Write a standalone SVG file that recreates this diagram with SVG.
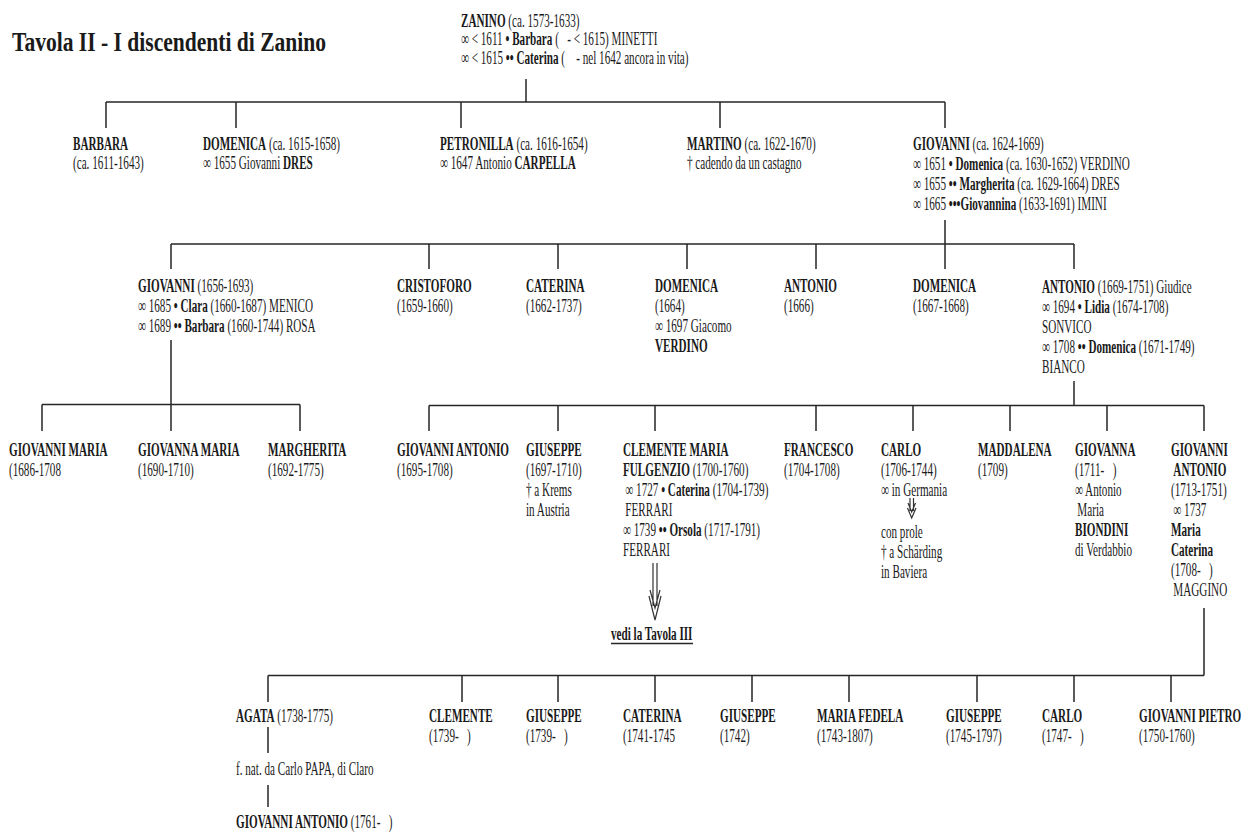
<svg xmlns="http://www.w3.org/2000/svg" width="1245" height="834" viewBox="0 0 1245 834" xml:space="preserve">
<style>
.t{font-family:"Liberation Serif","Times New Roman",serif;font-size:19px;fill:#1a1a1a;white-space:pre}
.b{font-weight:bold}
.title{font-family:"Liberation Serif","Times New Roman",serif;font-size:28px;font-weight:bold;fill:#1a1a1a}
.c{stroke:#262626;stroke-width:1.5;fill:none}
.a{stroke:#333;stroke-width:1.2;fill:none}
</style>
<rect width="1245" height="834" fill="#fff"/>
<g id="title" transform="translate(12 0) scale(0.77 1)"><text class="title" y="51">Tavola II - I discendenti di Zanino</text></g>

<g id="connectors">
<path class="c" d="M526,79V102 M106,102H945 M106,102V128 M236,102V128 M461,102V128 M720,102V128 M945,102V128"/>
<path class="c" d="M945,220V244 M171,244H1074 M171,244V269 M429,244V269 M558,244V269 M687,244V269 M816,244V269 M945,244V269 M1074,244V269"/>
<path class="c" d="M171,340V404.5 M42,404.5H300 M42,404.5V431 M171,404.5V431 M300,404.5V431"/>
<path class="c" d="M1074,381V405.5 M429,405.5H1204 M429,405.5V431 M558,405.5V431 M655,405.5V431 M816,405.5V431 M913,405.5V431 M1010,405.5V431 M1107,405.5V431 M1204,405.5V431"/>
<path class="c" d="M1204,608V675.5 M268,675.5H1204 M268,675.5V702 M462,675.5V702 M558,675.5V702 M655,675.5V702 M752,675.5V702 M849,675.5V702 M977,675.5V702 M1074,675.5V702 M1171,675.5V702"/>
<path class="c" d="M268,727V753 M268,785V807"/>
<path class="a" d="M653,563V606 M657,563V606 M649,596L655,620L661,596 M650,590L655,608L660,590"/>
<path class="a" d="M910,498V511 M913.5,498V511 M907.5,508L911.7,518L916,508 M908,503L911.7,512L915.5,503"/>
<path class="c" d="M611,643.5H693" stroke-width="1.2"/>
</g>

<g id="n-zanino" transform="translate(461 0) scale(0.587 1)">
<text class="t" y="27"><tspan class="b">ZANINO</tspan> (ca. 1573-1633)</text>
<text class="t" y="45.5">∞ &lt; 1611 <tspan class="b">• Barbara</tspan> (   - &lt; 1615) MINETTI</text>
<text class="t" y="64">∞ &lt; 1615 <tspan class="b">•• Caterina</tspan> (    - nel 1642 ancora in vita)</text>
</g>

<g id="n-barbara" transform="translate(73 0) scale(0.587 1)">
<text class="t b" y="150">BARBARA</text>
<text class="t" y="169.5">(ca. 1611-1643)</text>
</g>
<g id="n-domenica1" transform="translate(203 0) scale(0.587 1)">
<text class="t" y="150"><tspan class="b">DOMENICA</tspan> (ca. 1615-1658)</text>
<text class="t" y="169.5">∞ 1655 Giovanni <tspan class="b">DRES</tspan></text>
</g>
<g id="n-petronilla" transform="translate(440 0) scale(0.587 1)">
<text class="t" y="150"><tspan class="b">PETRONILLA</tspan> (ca. 1616-1654)</text>
<text class="t" y="169.5">∞ 1647 Antonio <tspan class="b">CARPELLA</tspan></text>
</g>
<g id="n-martino" transform="translate(687 0) scale(0.587 1)">
<text class="t" y="150"><tspan class="b">MARTINO</tspan> (ca. 1622-1670)</text>
<text class="t" y="169.5">† cadendo da un castagno</text>
</g>
<g id="n-giovanni1" transform="translate(913 0) scale(0.587 1)">
<text class="t" y="150.5"><tspan class="b">GIOVANNI</tspan> (ca. 1624-1669)</text>
<text class="t" y="170">∞ 1651 <tspan class="b">• Domenica</tspan> (ca. 1630-1652) VERDINO</text>
<text class="t" y="190">∞ 1655 <tspan class="b">•• Margherita</tspan> (ca. 1629-1664) DRES</text>
<text class="t" y="210">∞ 1665 <tspan class="b">•••Giovannina</tspan> (1633-1691) IMINI</text>
</g>

<g id="n-giovanni2" transform="translate(138 0) scale(0.587 1)">
<text class="t" y="292"><tspan class="b">GIOVANNI</tspan> (1656-1693)</text>
<text class="t" y="312">∞ 1685 <tspan class="b">• Clara</tspan> (1660-1687) MENICO</text>
<text class="t" y="332">∞ 1689 <tspan class="b">•• Barbara</tspan> (1660-1744) ROSA</text>
</g>
<g id="n-cristoforo" transform="translate(397 0) scale(0.587 1)">
<text class="t b" y="292">CRISTOFORO</text>
<text class="t" y="312">(1659-1660)</text>
</g>
<g id="n-caterina2" transform="translate(526 0) scale(0.587 1)">
<text class="t b" y="292">CATERINA</text>
<text class="t" y="312">(1662-1737)</text>
</g>
<g id="n-domenica2" transform="translate(655 0) scale(0.587 1)">
<text class="t b" y="292">DOMENICA</text>
<text class="t" y="312">(1664)</text>
<text class="t" y="332">∞ 1697 Giacomo</text>
<text class="t b" y="352">VERDINO</text>
</g>
<g id="n-antonio2a" transform="translate(784 0) scale(0.587 1)">
<text class="t b" y="292">ANTONIO</text>
<text class="t" y="312">(1666)</text>
</g>
<g id="n-domenica3" transform="translate(913 0) scale(0.587 1)">
<text class="t b" y="292">DOMENICA</text>
<text class="t" y="312">(1667-1668)</text>
</g>
<g id="n-antonio2b" transform="translate(1042 0) scale(0.587 1)">
<text class="t" y="293"><tspan class="b">ANTONIO</tspan> (1669-1751) Giudice</text>
<text class="t" y="313">∞ 1694 <tspan class="b">• Lidia</tspan> (1674-1708)</text>
<text class="t" y="333">SONVICO</text>
<text class="t" y="353">∞ 1708 <tspan class="b">•• Domenica</tspan> (1671-1749)</text>
<text class="t" y="373">BIANCO</text>
</g>

<g id="n-giovannimaria" transform="translate(9 0) scale(0.587 1)">
<text class="t b" y="456">GIOVANNI MARIA</text>
<text class="t" y="476">(1686-1708</text>
</g>
<g id="n-giovannamaria" transform="translate(138 0) scale(0.587 1)">
<text class="t b" y="456">GIOVANNA MARIA</text>
<text class="t" y="476">(1690-1710)</text>
</g>
<g id="n-margherita" transform="translate(268 0) scale(0.587 1)">
<text class="t b" y="456">MARGHERITA</text>
<text class="t" y="476">(1692-1775)</text>
</g>
<g id="n-giovanniantonio3" transform="translate(397 0) scale(0.587 1)">
<text class="t b" y="456">GIOVANNI ANTONIO</text>
<text class="t" y="476">(1695-1708)</text>
</g>
<g id="n-giuseppe3" transform="translate(526 0) scale(0.587 1)">
<text class="t b" y="456">GIUSEPPE</text>
<text class="t" y="476">(1697-1710)</text>
<text class="t" y="496">† a Krems</text>
<text class="t" y="516">in Austria</text>
</g>
<g id="n-clemente" transform="translate(623 0) scale(0.587 1)">
<text class="t b" y="456">CLEMENTE MARIA</text>
<text class="t" y="476"><tspan class="b">FULGENZIO</tspan> (1700-1760)</text>
<text class="t" x="4" y="496">∞ 1727 <tspan class="b">• Caterina</tspan> (1704-1739)</text>
<text class="t" x="4" y="516">FERRARI</text>
<text class="t" y="536">∞ 1739 <tspan class="b">•• Orsola</tspan> (1717-1791)</text>
<text class="t" y="556">FERRARI</text>
</g>
<g id="n-tavola3" transform="translate(611 0) scale(0.587 1)">
<text class="t b" y="640">vedi la Tavola III</text>
</g>
<g id="n-francesco" transform="translate(784 0) scale(0.587 1)">
<text class="t b" y="456">FRANCESCO</text>
<text class="t" y="476">(1704-1708)</text>
</g>
<g id="n-carlo3" transform="translate(881 0) scale(0.587 1)">
<text class="t b" y="456">CARLO</text>
<text class="t" y="476">(1706-1744)</text>
<text class="t" y="496">∞ in Germania</text>
<text class="t" y="538">con prole</text>
<text class="t" y="558">† a Schärding</text>
<text class="t" y="578">in Baviera</text>
</g>
<g id="n-maddalena" transform="translate(978 0) scale(0.587 1)">
<text class="t b" y="456">MADDALENA</text>
<text class="t" y="476">(1709)</text>
</g>
<g id="n-giovanna3" transform="translate(1075 0) scale(0.587 1)">
<text class="t b" y="456">GIOVANNA</text>
<text class="t" y="476">(1711-   )</text>
<text class="t" y="496">∞ Antonio</text>
<text class="t" x="4" y="516">Maria</text>
<text class="t b" y="536">BIONDINI</text>
<text class="t" y="556">di Verdabbio</text>
</g>
<g id="n-giovanniantonio3b" transform="translate(1171 0) scale(0.587 1)">
<text class="t b" y="456">GIOVANNI</text>
<text class="t b" x="4" y="476">ANTONIO</text>
<text class="t" y="496">(1713-1751)</text>
<text class="t" x="4" y="516">∞ 1737</text>
<text class="t b" y="536">Maria</text>
<text class="t b" y="556">Caterina</text>
<text class="t" y="576">(1708-   )</text>
<text class="t" x="4" y="596">MAGGINO</text>
</g>

<g id="n-agata" transform="translate(236 0) scale(0.587 1)">
<text class="t" y="722"><tspan class="b">AGATA</tspan> (1738-1775)</text>
</g>
<g id="n-nota" transform="translate(236 0) scale(0.587 1)">
<text class="t" y="775">f. nat. da Carlo PAPA, di Claro</text>
</g>
<g id="n-giovanniantonio5" transform="translate(236 0) scale(0.587 1)">
<text class="t" y="828"><tspan class="b">GIOVANNI ANTONIO</tspan> (1761-   )</text>
</g>
<g id="n-clemente4" transform="translate(429 0) scale(0.587 1)">
<text class="t b" y="722">CLEMENTE</text>
<text class="t" y="742">(1739-   )</text>
</g>
<g id="n-giuseppe4a" transform="translate(526 0) scale(0.587 1)">
<text class="t b" y="722">GIUSEPPE</text>
<text class="t" y="742">(1739-   )</text>
</g>
<g id="n-caterina4" transform="translate(623 0) scale(0.587 1)">
<text class="t b" y="722">CATERINA</text>
<text class="t" y="742">(1741-1745</text>
</g>
<g id="n-giuseppe4b" transform="translate(720 0) scale(0.587 1)">
<text class="t b" y="722">GIUSEPPE</text>
<text class="t" y="742">(1742)</text>
</g>
<g id="n-mariafedela" transform="translate(817 0) scale(0.587 1)">
<text class="t b" y="722">MARIA FEDELA</text>
<text class="t" y="742">(1743-1807)</text>
</g>
<g id="n-giuseppe4c" transform="translate(946 0) scale(0.587 1)">
<text class="t b" y="722">GIUSEPPE</text>
<text class="t" y="742">(1745-1797)</text>
</g>
<g id="n-carlo4" transform="translate(1042 0) scale(0.587 1)">
<text class="t b" y="722">CARLO</text>
<text class="t" y="742">(1747-   )</text>
</g>
<g id="n-giovannipietro" transform="translate(1139 0) scale(0.587 1)">
<text class="t b" y="722">GIOVANNI PIETRO</text>
<text class="t" y="742">(1750-1760)</text>
</g>
</svg>
